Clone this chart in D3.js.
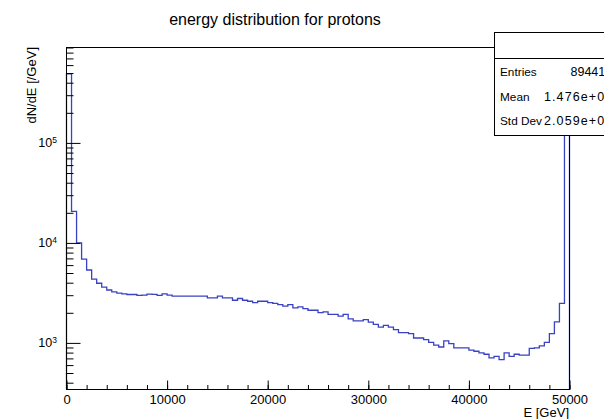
<!DOCTYPE html>
<html>
<head>
<meta charset="utf-8">
<script src="https://cdn.jsdelivr.net/npm/d3@7"></script>
<style>
  html, body { margin: 0; padding: 0; background: #fff; }
  svg { display: block; }
  text { font-family: "Liberation Sans", Arial, Helvetica, sans-serif; fill: #000; }
</style>
</head>
<body>
<svg id="chart" width="604" height="419"></svg>
<script>
// Histogram binning: 100 bins of 500 GeV from 0 to 50000 GeV
const binLow = 0;
const binWidth = 500;
// dN/dE per bin [/GeV]
const counts = [
  490000, 20700, 10000, 6900, 5360, 4350, 3950, 3620, 3380, 3240,
  3140, 3090, 3050, 3050, 2990, 3000, 3080, 3060, 2990, 3090,
  3000, 2930, 2930, 2930, 2930, 2930, 2930, 2930, 2820, 2820,
  2930, 2820, 2820, 2670, 2780, 2670, 2610, 2530, 2610, 2610,
  2530, 2490, 2420, 2330, 2420, 2240, 2290, 2200, 2120, 2120,
  2010, 2040, 1930, 1930, 1850, 1930, 1740, 1660, 1660, 1710,
  1610, 1530, 1440, 1495, 1440, 1360, 1270, 1270, 1240, 1120,
  1120, 1080, 1010, 950, 910, 1050, 985, 890, 890, 890,
  845, 825, 795, 770, 710, 735, 680, 795, 735, 770,
  755, 755, 880, 890, 935, 1010, 1240, 1620, 2480, 470000
];
const xMajorTicks = [0, 10000, 20000, 30000, 40000, 50000];
const xMinorTicks = d3.range(0, 50001, 2000);
const yMajorExponents = [3, 4, 5];
const yDomain = [342, 900000];
const xDomain = [0, 50000];

const titleText = "energy distribution for protons";
const xTitle = "E [GeV]";
const yTitle = "dN/dE [/GeV]";
const statsLabels = ["Entries", "Mean", "Std Dev"];
const statsValues = ["89441", "1.476e+04", "2.059e+04"];

const svg = d3.select("#chart");
const frame = { left: 66.5, right: 569.5, top: 47.5, bottom: 389.5 };

const x = d3.scaleLinear().domain(xDomain).range([frame.left, frame.right]);
const y = d3.scaleLog().domain(yDomain).range([frame.bottom, frame.top]);

// Step outline of the histogram
const pts = [[binLow, yDomain[0]]];
counts.forEach((v, i) => pts.push([binLow + i * binWidth, v]));
pts.push([binLow + counts.length * binWidth, yDomain[0]]);
const line = d3.line().x(d => x(d[0])).y(d => y(d[1])).curve(d3.curveStepAfter);

svg.append("path")
  .attr("d", line(pts))
  .attr("fill", "none")
  .attr("stroke", "#3a42c4")
  .attr("stroke-width", 1.3);

// Frame
svg.append("rect")
  .attr("x", frame.left).attr("y", frame.top)
  .attr("width", frame.right - frame.left).attr("height", frame.bottom - frame.top)
  .attr("fill", "none").attr("stroke", "#000").attr("stroke-width", 1);

// X axis: ticks point into the frame
const xMinor = d3.axisBottom(x).tickValues(xMinorTicks).tickSize(-4.5).tickFormat("");
const xMajor = d3.axisBottom(x).tickValues(xMajorTicks).tickSize(-9).tickPadding(5.5)
  .tickFormat(d3.format("d"));
const gxMinor = svg.append("g").attr("transform", `translate(0,${frame.bottom})`).call(xMinor);
const gxMajor = svg.append("g").attr("transform", `translate(0,${frame.bottom})`).call(xMajor);
[gxMinor, gxMajor].forEach(g => {
  g.select(".domain").remove();
  g.selectAll(".tick line").attr("stroke", "#000");
});
gxMajor.selectAll(".tick text").attr("font-size", 13).attr("font-family", null);

// Y axis (log): decade ticks with 10^n labels, minor ticks at 2..9
const yMinorTicks = [];
for (let e = 2; e <= 5; e++) for (let m = 2; m <= 9; m++) {
  const v = m * Math.pow(10, e);
  if (v >= yDomain[0] && v <= yDomain[1]) yMinorTicks.push(v);
}
const yMinor = d3.axisLeft(y).tickValues(yMinorTicks).tickSize(-7).tickFormat("");
const yMajor = d3.axisLeft(y).tickValues(yMajorExponents.map(e => Math.pow(10, e)))
  .tickSize(-14).tickPadding(9.5).tickFormat("");
const gyMinor = svg.append("g").attr("transform", `translate(${frame.left},0)`).call(yMinor);
const gyMajor = svg.append("g").attr("transform", `translate(${frame.left},0)`).call(yMajor);
[gyMinor, gyMajor].forEach(g => {
  g.select(".domain").remove();
  g.selectAll(".tick line").attr("stroke", "#000");
});
gyMajor.selectAll(".tick text")
  .attr("font-size", 12.5).attr("font-family", null)
  .each(function(d) {
    const t = d3.select(this);
    t.append("tspan").text("10");
    t.append("tspan").attr("font-size", 8.5).attr("dy", "-0.55em")
      .text(Math.round(Math.log10(d)));
  });

// Titles
svg.append("text").attr("x", 275).attr("y", 25)
  .attr("text-anchor", "middle").attr("font-size", 16).text(titleText);
svg.append("text").attr("x", frame.right - 0.5).attr("y", 416.5)
  .attr("text-anchor", "end").attr("font-size", 13).text(xTitle);
svg.append("text").attr("transform", `translate(35.5,${frame.top - 0.5}) rotate(-90)`)
  .attr("text-anchor", "end").attr("font-size", 13).text(yTitle);

// Statistics box (extends past the right edge of the canvas)
const stats = svg.append("g");
stats.append("rect").attr("x", 494.5).attr("y", 32.5).attr("width", 200).attr("height", 103)
  .attr("fill", "#fff").attr("stroke", "#000").attr("stroke-width", 1);
stats.append("line").attr("x1", 494.5).attr("x2", 700).attr("y1", 58.5).attr("y2", 58.5)
  .attr("stroke", "#000");
const rowY = [75.5, 100.5, 125];
const valueX = [570.5, 544, 544];
const valueSpacing = [0, 1.1, 1.1];
statsLabels.forEach((s, i) => {
  stats.append("text").attr("x", 500).attr("y", rowY[i]).attr("font-size", 11.8).text(s);
  stats.append("text").attr("x", valueX[i]).attr("y", rowY[i]).attr("font-size", 12.5)
    .attr("letter-spacing", valueSpacing[i]).text(statsValues[i]);
});
</script>
</body>
</html>
